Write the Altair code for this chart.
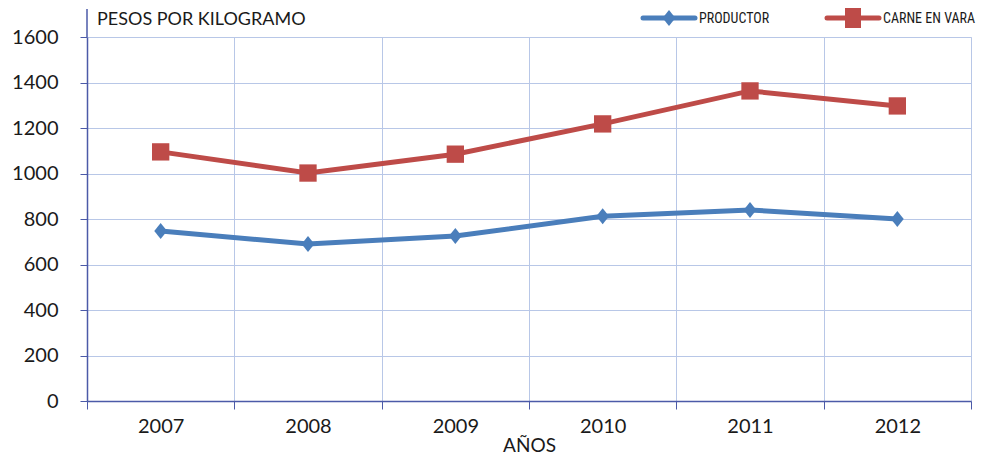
import altair as alt
import pandas as pd

years = ["2007", "2008", "2009", "2010", "2011", "2012"]
series_names = ["PRODUCTOR", "CARNE EN VARA"]
productor = [747, 690, 725, 812, 840, 800]
carne_en_vara = [1095, 1002, 1085, 1218, 1363, 1297]
y_ticks = [0, 200, 400, 600, 800, 1000, 1200, 1400, 1600]
series_colors = ["#4a7ebb", "#be4b48"]

y_title = "PESOS POR KILOGRAMO"
x_title = "AÑOS"

df = pd.DataFrame({
    "year": years + years,
    "series": [series_names[0]] * len(years) + [series_names[1]] * len(years),
    "value": productor + carne_en_vara,
})

AXIS_COLOR = "#4b5aa8"
GRID_COLOR = "#b8c7e7"
FONT = "Lato"
DIAMOND = "M0,-1L0.8,0L0,1L-0.8,0Z"
SQUARE = "M-1,-1H1V1H-1Z"

x_enc = alt.X(
    "year:O",
    bandPosition=0.5,
    scale=alt.Scale(type="band", paddingInner=0, paddingOuter=0),
    axis=alt.Axis(
        title=x_title, tickBand="extent", labelAngle=0, grid=True,
        gridColor=GRID_COLOR, gridWidth=1,
        domainColor=AXIS_COLOR, domainWidth=1.5,
        tickColor=AXIS_COLOR, tickSize=8, tickWidth=1,
        labelFont=FONT, labelFontSize=20, labelColor="#1a1a1a", labelPadding=7,
        titleFont=FONT, titleFontSize=19, titleFontWeight="normal",
        titleColor="#1a1a1a", titlePadding=0,
    ),
)
y_enc = alt.Y(
    "value:Q",
    scale=alt.Scale(domain=[0, 1600], nice=False),
    axis=alt.Axis(
        title=None, values=y_ticks, format="d", grid=True, gridColor=GRID_COLOR, gridWidth=1,
        domainColor=AXIS_COLOR, domainWidth=1.5,
        tickColor=AXIS_COLOR, tickSize=7, tickWidth=1,
        labelFont=FONT, labelFontSize=20, labelColor="#1a1a1a", labelPadding=22,
    ),
)
color_enc = alt.Color(
    "series:N",
    scale=alt.Scale(domain=series_names, range=series_colors),
    legend=None,
)

base = alt.Chart(df)
lines = base.mark_line(strokeWidth=5).encode(x=x_enc, y=y_enc, color=color_enc, detail="series:N")
points = base.mark_point(filled=True, opacity=1).encode(
    x=x_enc, y=y_enc, color=color_enc,
    shape=alt.Shape("series:N", scale=alt.Scale(domain=series_names, range=[DIAMOND, SQUARE]), legend=None),
    size=alt.Size("series:N", scale=alt.Scale(domain=series_names, range=[256, 300]), legend=None),
)

one = pd.DataFrame({"t": [y_title]})
axis_ext = alt.Chart(one).mark_rule(color=AXIS_COLOR, strokeWidth=1.5).encode(
    x=alt.value(0), y=alt.value(-28), y2=alt.value(0))
ytitle = alt.Chart(one).mark_text(align="left", baseline="middle", font=FONT, fontSize=18,
                                  color="#1a1a1a").encode(
    x=alt.value(10), y=alt.value(-17), text="t:N")

legend_layers = []
legend_x = [556, 740]
legend_shapes = [(DIAMOND, 256), ("M-0.8,-1H0.8V1H-0.8Z", 400)]
for name, col, lx, (shp, sz) in zip(series_names, series_colors, legend_x, legend_shapes):
    d = pd.DataFrame({"name": [name]})
    c = alt.Chart(d)
    legend_layers.append(c.mark_rule(color=col, strokeWidth=5, strokeCap="round").encode(
        x=alt.value(lx), x2=alt.value(lx + 52), y=alt.value(-19)))
    legend_layers.append(c.mark_point(filled=True, opacity=1, color=col, shape=shp, size=sz).encode(
        x=alt.value(lx + 26), y=alt.value(-19)))
    legend_layers.append(c.mark_text(align="left", baseline="middle",
                                     font="Liberation Sans Narrow, Roboto Condensed, Roboto", fontSize=14,
                                     color="#1a1a1a").encode(
        x=alt.value(lx + 56), y=alt.value(-18), text="name:N"))

chart = alt.layer(axis_ext, lines, points, ytitle, *legend_layers).properties(
    width=884, height=364,
    autosize=alt.AutoSizeParams(type="none"),
    padding={"left": 79, "top": 29, "right": 7, "bottom": 55},
).configure_view(strokeWidth=0).configure(background="white")

chart.save("out.html", embed_options={"renderer": "svg", "actions": False})
